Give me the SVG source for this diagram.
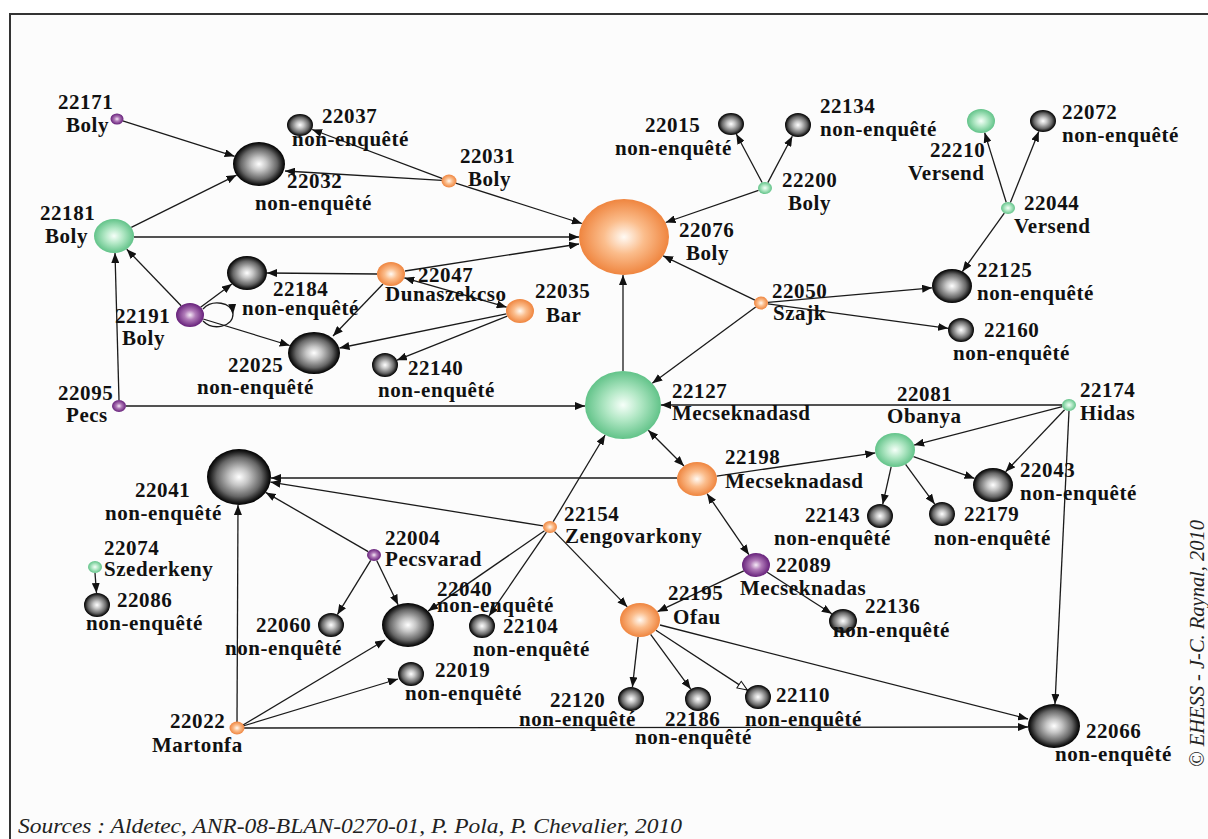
<svg xmlns="http://www.w3.org/2000/svg" width="1208" height="839" viewBox="0 0 1208 839">
<defs>
<radialGradient id="gBlack" cx="50%" cy="50%" r="50%">
<stop offset="0%" stop-color="#ffffff"/><stop offset="30%" stop-color="#c6c6c6"/><stop offset="70%" stop-color="#666"/><stop offset="90%" stop-color="#1e1e1e"/><stop offset="100%" stop-color="#000"/>
</radialGradient>
<radialGradient id="gGreen" cx="50%" cy="50%" r="50%">
<stop offset="0%" stop-color="#f6fff9"/><stop offset="45%" stop-color="#b3e8c6"/><stop offset="100%" stop-color="#62c389"/>
</radialGradient>
<radialGradient id="gOrange" cx="50%" cy="50%" r="50%">
<stop offset="0%" stop-color="#fffaf4"/><stop offset="45%" stop-color="#fbbd8c"/><stop offset="100%" stop-color="#ef853f"/>
</radialGradient>
<radialGradient id="gPurple" cx="50%" cy="50%" r="50%">
<stop offset="0%" stop-color="#f5eaf6"/><stop offset="40%" stop-color="#b07ab8"/><stop offset="100%" stop-color="#66207a"/>
</radialGradient>
<marker id="arr" markerUnits="userSpaceOnUse" markerWidth="10" markerHeight="8" viewBox="0 0 10 8" refX="10" refY="4" orient="auto-start-reverse">
<path d="M0,0 L10,4 L0,8 z" fill="#111"/>
</marker>
<marker id="arrOpen" markerUnits="userSpaceOnUse" markerWidth="12" markerHeight="10" viewBox="0 0 12 10" refX="11" refY="5" orient="auto">
<path d="M1,1 L11,5 L1,9 z" fill="#fff" stroke="#111" stroke-width="1"/>
</marker>
<style>
.e{fill:none;stroke:#1a1a1a;stroke-width:1.3;marker-end:url(#arr)}
.b{marker-start:url(#arr)}
.o{marker-end:url(#arrOpen)}
.nb{fill:url(#gBlack)}
.ng{fill:url(#gGreen)}
.no{fill:url(#gOrange)}
.np{fill:url(#gPurple)}
text{font-family:"Liberation Serif","Times New Roman",serif;fill:#111}
.l{font-weight:bold;font-size:21px;letter-spacing:0.55px}
.it{font-style:italic;font-size:21px;fill:#222}
</style>
</defs>
<rect x="0" y="0" width="1208" height="839" fill="#fff"/>
<rect x="10" y="14" width="1212" height="840" fill="#fcfcfc" stroke="#333" stroke-width="2"/>

<g id="connectors">
<path class="e" d="M122.7,120.8 L234.6,156.3"/>
<path class="e" d="M131.3,227.4 L236.6,175.1"/>
<path class="e" d="M442.6,178.6 L312.1,129.5"/>
<path class="e" d="M442,180.4 L285,171"/>
<path class="e" d="M455.6,183.1 L581.9,223.5"/>
<path class="e" d="M134,237 L579,237"/>
<path class="e" d="M405,271 L579,244"/>
<path class="e" d="M377,274 L267,273"/>
<path class="e" d="M383,284 L333,336"/>
<path class="e" d="M506.4,313.8 L339.5,348"/>
<path class="e" d="M507.3,316.1 L396.9,360.2"/>
<path class="e b" d="M404.3,277.8 L506.7,307.2"/>
<path class="e" d="M181.1,305.7 L126.7,249.2"/>
<path class="e" d="M200.6,307.2 L231.9,283.9"/>
<path class="e" d="M203.2,319 L289.7,345.5"/>
<path class="e" d="M203,309 C212,299 232,302 233,314"/>
<path fill="none" stroke="#1a1a1a" stroke-width="1.3" d="M233,314 C233,327 213,331 203,321"/>
<path class="e" d="M119,400 L115,253"/>
<path class="e" d="M126,406 L585,406"/>
<path class="e" d="M623,371 L623,275"/>
<path class="e" d="M758.5,190.3 L665.6,222.5"/>
<path class="e" d="M762.1,182.5 L736.3,134"/>
<path class="e" d="M767.8,182.6 L792.3,136.2"/>
<path class="e" d="M754.9,300.1 L663.1,255.8"/>
<path class="e" d="M755.7,306.9 L652.3,383.3"/>
<path class="e" d="M768,302.4 L932.1,287.8"/>
<path class="e" d="M767.9,303.9 L948.1,328.3"/>
<path class="e" d="M1006.2,202.2 L984.6,132.6"/>
<path class="e" d="M1010.4,202.4 L1038.8,131.6"/>
<path class="e" d="M1004.3,213.1 L962.4,271.5"/>
<path class="e" d="M1062,405 L661,405"/>
<path class="e" d="M1062.3,406.7 L914.1,445.1"/>
<path class="e" d="M1064.6,409.7 L1005.6,471.8"/>
<path class="e" d="M1069,411 L1055,704"/>
<path class="e" d="M716.7,476.1 L875.3,452.9"/>
<path class="e" d="M891.2,466.7 L882.7,504.3"/>
<path class="e" d="M905.6,464.4 L934.7,504.1"/>
<path class="e" d="M913.5,456.6 L974.5,478.4"/>
<path class="e b" d="M648.3,430.3 L684,466"/>
<path class="e b" d="M707.1,493.7 L748.9,554.7"/>
<path class="e" d="M677,478 L271,478"/>
<path class="e" d="M543.1,525.9 L270.5,482.1"/>
<path class="e" d="M553.2,521.7 L605.1,435"/>
<path class="e" d="M544.5,530.8 L428.1,611.1"/>
<path class="e" d="M546.4,532.2 L489,615.9"/>
<path class="e" d="M554.5,531.6 L627.3,606.9"/>
<path class="e" d="M368.2,551.6 L265.7,492.4"/>
<path class="e" d="M370.7,560.3 L337.4,614.6"/>
<path class="e" d="M376.7,560.5 L398.1,604.7"/>
<path class="e" d="M95,573 L96.5,593"/>
<path class="e" d="M237,722 L238,505"/>
<path class="e" d="M243,725 L385,640"/>
<path class="e" d="M243,726 L398,679"/>
<path class="e" d="M244,728 L1028,727"/>
<path class="e" d="M743.8,570.8 L657.5,611.7"/>
<path class="e" d="M767.2,572.2 L831.8,613.8"/>
<path class="e" d="M638.1,636.9 L632.4,687.1"/>
<path class="e" d="M650.6,634.4 L690.7,689.1"/>
<path class="e o" d="M655.9,630.3 L747.4,690.1"/>
<path class="e" d="M660,625 L1028,719"/>
</g>

<g id="n22171"><ellipse class="np" cx="117" cy="119" rx="6.5" ry="5.5"/><text class="l" x="58" y="109">22171</text><text class="l" x="66" y="132">Boly</text></g>
<g id="n22037"><ellipse class="nb" cx="300" cy="125" rx="13" ry="11"/><text class="l" x="322" y="123">22037</text><text class="l" x="292" y="146">non-enquêté</text></g>
<g id="n22032"><ellipse class="nb" cx="259" cy="164" rx="26" ry="22"/><text class="l" x="287" y="188">22032</text><text class="l" x="255" y="210">non-enquêté</text></g>
<g id="n22031"><ellipse class="no" cx="449" cy="181" rx="7.5" ry="6.5"/><text class="l" x="460" y="163">22031</text><text class="l" x="468" y="186">Boly</text></g>
<g id="n22181"><ellipse class="ng" cx="114" cy="236" rx="20" ry="17"/><text class="l" x="40" y="220">22181</text><text class="l" x="45" y="243">Boly</text></g>
<g id="n22076"><ellipse class="no" cx="624" cy="237" rx="45" ry="38"/><text class="l" x="679" y="237">22076</text><text class="l" x="686" y="260">Boly</text></g>
<g id="n22015"><ellipse class="nb" cx="731" cy="124" rx="13" ry="11"/><text class="l" x="645" y="132">22015</text><text class="l" x="615" y="155">non-enquêté</text></g>
<g id="n22134"><ellipse class="nb" cx="798" cy="125" rx="13" ry="12"/><text class="l" x="820" y="113">22134</text><text class="l" x="820" y="136">non-enquêté</text></g>
<g id="n22200"><ellipse class="ng" cx="765" cy="188" rx="7" ry="6"/><text class="l" x="782" y="187">22200</text><text class="l" x="788" y="210">Boly</text></g>
<g id="n22210"><ellipse class="ng" cx="981" cy="121" rx="14" ry="12"/><text class="l" x="930" y="157">22210</text><text class="l" x="908" y="180">Versend</text></g>
<g id="n22072"><ellipse class="nb" cx="1043" cy="121" rx="13" ry="11"/><text class="l" x="1062" y="119">22072</text><text class="l" x="1062" y="142">non-enquêté</text></g>
<g id="n22044"><ellipse class="ng" cx="1008" cy="208" rx="7" ry="6"/><text class="l" x="1024" y="210">22044</text><text class="l" x="1014" y="233">Versend</text></g>
<g id="n22125"><ellipse class="nb" cx="952" cy="286" rx="20" ry="17"/><text class="l" x="977" y="277">22125</text><text class="l" x="977" y="300">non-enquêté</text></g>
<g id="n22160"><ellipse class="nb" cx="961" cy="330" rx="13" ry="12"/><text class="l" x="984" y="337">22160</text><text class="l" x="953" y="360">non-enquêté</text></g>
<g id="n22050"><ellipse class="no" cx="761" cy="303" rx="7" ry="6.5"/><text class="l" x="772" y="298">22050</text><text class="l" x="773" y="320">Szajk</text></g>
<g id="n22184"><ellipse class="nb" cx="247" cy="273" rx="20" ry="17"/><text class="l" x="273" y="296">22184</text><text class="l" x="242" y="315">non-enquêté</text></g>
<g id="n22047"><ellipse class="no" cx="391" cy="274" rx="14" ry="12"/><text class="l" x="418" y="282">22047</text><text class="l" x="385" y="301">Dunaszekcso</text></g>
<g id="n22035"><ellipse class="no" cx="520" cy="311" rx="14" ry="12"/><text class="l" x="535" y="298">22035</text><text class="l" x="546" y="322">Bar</text></g>
<g id="n22191"><ellipse class="np" cx="190" cy="315" rx="14" ry="12"/><text class="l" x="115" y="323">22191</text><text class="l" x="122" y="345">Boly</text></g>
<g id="n22025"><ellipse class="nb" cx="314" cy="353" rx="26" ry="21"/><text class="l" x="228" y="372">22025</text><text class="l" x="197" y="394">non-enquêté</text></g>
<g id="n22140"><ellipse class="nb" cx="385" cy="365" rx="13" ry="12"/><text class="l" x="408" y="375">22140</text><text class="l" x="378" y="397">non-enquêté</text></g>
<g id="n22095"><ellipse class="np" cx="119" cy="406" rx="7" ry="6"/><text class="l" x="58" y="400">22095</text><text class="l" x="66" y="422">Pecs</text></g>
<g id="n22127"><ellipse class="ng" cx="623" cy="405" rx="38" ry="34"/><text class="l" x="672" y="398">22127</text><text class="l" x="672" y="420">Mecseknadasd</text></g>
<g id="n22081"><ellipse class="ng" cx="895" cy="450" rx="20" ry="17"/><text class="l" x="897" y="401">22081</text><text class="l" x="887" y="423">Obanya</text></g>
<g id="n22174"><ellipse class="ng" cx="1069" cy="405" rx="7" ry="6"/><text class="l" x="1080" y="397">22174</text><text class="l" x="1080" y="420">Hidas</text></g>
<g id="n22198"><ellipse class="no" cx="697" cy="479" rx="20" ry="17"/><text class="l" x="725" y="464">22198</text><text class="l" x="725" y="488">Mecseknadasd</text></g>
<g id="n22043"><ellipse class="nb" cx="993" cy="485" rx="20" ry="17"/><text class="l" x="1020" y="477">22043</text><text class="l" x="1020" y="500">non-enquêté</text></g>
<g id="n22143"><ellipse class="nb" cx="880" cy="516" rx="13" ry="12"/><text class="l" x="805" y="522">22143</text><text class="l" x="774" y="545">non-enquêté</text></g>
<g id="n22179"><ellipse class="nb" cx="942" cy="514" rx="13" ry="12"/><text class="l" x="964" y="521">22179</text><text class="l" x="934" y="545">non-enquêté</text></g>
<g id="n22089"><ellipse class="np" cx="756" cy="565" rx="14" ry="12"/><text class="l" x="776" y="572">22089</text><text class="l" x="740" y="595">Mecseknadas</text></g>
<g id="n22136"><ellipse class="nb" cx="843" cy="621" rx="14" ry="12"/><text class="l" x="865" y="613">22136</text><text class="l" x="833" y="637">non-enquêté</text></g>
<g id="n22041"><ellipse class="nb" cx="239" cy="477" rx="32" ry="28"/><text class="l" x="135" y="497">22041</text><text class="l" x="105" y="520">non-enquêté</text></g>
<g id="n22154"><ellipse class="no" cx="550" cy="527" rx="7" ry="6"/><text class="l" x="564" y="521">22154</text><text class="l" x="565" y="543">Zengovarkony</text></g>
<g id="n22004"><ellipse class="np" cx="374" cy="555" rx="7" ry="6"/><text class="l" x="385" y="545">22004</text><text class="l" x="385" y="566">Pecsvarad</text></g>
<g id="n22074"><ellipse class="ng" cx="95" cy="567" rx="7" ry="6"/><text class="l" x="104" y="555">22074</text><text class="l" x="104" y="576">Szederkeny</text></g>
<g id="n22086"><ellipse class="nb" cx="97" cy="605" rx="13" ry="12"/><text class="l" x="117" y="607">22086</text><text class="l" x="86" y="630">non-enquêté</text></g>
<g id="n22040"><ellipse class="nb" cx="408" cy="625" rx="26" ry="22"/><text class="l" x="437" y="596">22040</text><text class="l" x="437" y="612">non-enquêté</text></g>
<g id="n22060"><ellipse class="nb" cx="331" cy="625" rx="13" ry="12"/><text class="l" x="256" y="632">22060</text><text class="l" x="225" y="655">non-enquêté</text></g>
<g id="n22104"><ellipse class="nb" cx="482" cy="626" rx="13" ry="12"/><text class="l" x="503" y="633">22104</text><text class="l" x="473" y="656">non-enquêté</text></g>
<g id="n22019"><ellipse class="nb" cx="411" cy="674" rx="13" ry="12"/><text class="l" x="435" y="677">22019</text><text class="l" x="405" y="700">non-enquêté</text></g>
<g id="n22022"><ellipse class="no" cx="237" cy="728" rx="7.5" ry="6.5"/><text class="l" x="170" y="728">22022</text><text class="l" x="152" y="752">Martonfa</text></g>
<g id="n22195"><ellipse class="no" cx="640" cy="620" rx="20" ry="17"/><text class="l" x="668" y="600">22195</text><text class="l" x="673" y="624">Ofau</text></g>
<g id="n22120"><ellipse class="nb" cx="631" cy="699" rx="13" ry="12"/><text class="l" x="550" y="707">22120</text><text class="l" x="519" y="726">non-enquêté</text></g>
<g id="n22186"><ellipse class="nb" cx="698" cy="699" rx="13" ry="12"/><text class="l" x="665" y="726">22186</text><text class="l" x="635" y="744">non-enquêté</text></g>
<g id="n22110"><ellipse class="nb" cx="758" cy="697" rx="13" ry="12"/><text class="l" x="776" y="702">22110</text><text class="l" x="745" y="726">non-enquêté</text></g>
<g id="n22066"><ellipse class="nb" cx="1054" cy="726" rx="26" ry="22"/><text class="l" x="1086" y="738">22066</text><text class="l" x="1055" y="761">non-enquêté</text></g>

<text class="it" x="18" y="833" textLength="664" lengthAdjust="spacingAndGlyphs">Sources :  Aldetec, ANR-08-BLAN-0270-01, P. Pola, P. Chevalier, 2010</text>
<text class="it" transform="translate(1204,767) rotate(-90)" x="0" y="0" textLength="247" lengthAdjust="spacingAndGlyphs">© EHESS - J-C. Raynal, 2010</text>
</svg>
